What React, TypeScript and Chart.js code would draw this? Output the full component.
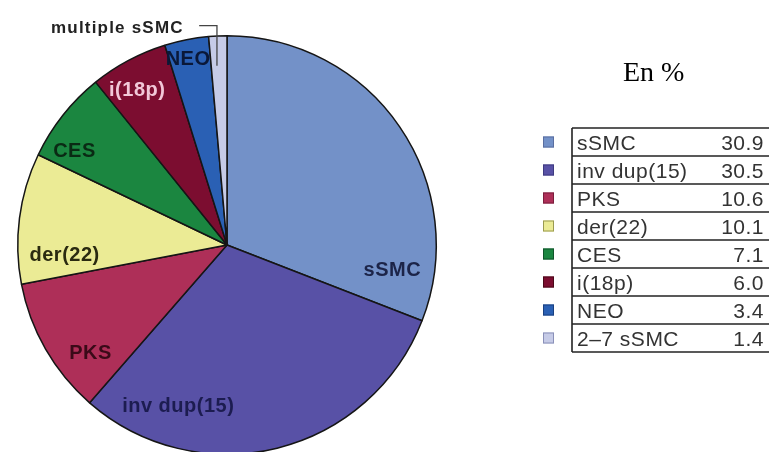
import React, { useEffect, useRef } from "react";
import { Chart, registerables } from "chart.js";

Chart.register(...registerables);

// ---- data ----
const categories = ["sSMC", "inv dup(15)", "PKS", "der(22)", "CES", "i(18p)", "NEO", "2–7 sSMC"];
const values = [30.9, 30.5, 10.6, 10.1, 7.1, 6.0, 3.4, 1.4];
const valueLabels = ["30.9", "30.5", "10.6", "10.1", "7.1", "6.0", "3.4", "1.4"];
const sliceLabels = ["sSMC", "inv dup(15)", "PKS", "der(22)", "CES", "i(18p)", "NEO", "multiple sSMC"];
const unitLabel = "En %";

// ---- styles ----
const sliceColors = ["#7391c8", "#5851a6", "#ae2f58", "#ebeb95", "#1b8640", "#7c0d30", "#2a60b4", "#c6cbe7"];
const swatchBorders = ["#5a6ea0", "#3e3a80", "#7a1e3c", "#9a9a50", "#10552a", "#4a0818", "#1a4080", "#8a90b8"];
const labelColors = ["#1c2448", "#1c1c50", "#3a0a18", "#2a2a10", "#0a2a14", "#f2c8d8", "#0a1838", "#222222"];
// label anchor, relative to pie centre, in units of radius
const labelOffsets: [number, number][] = [
  [0.79, 0.12],
  [-0.233, 0.771],
  [-0.652, 0.519],
  [-0.776, 0.048],
  [-0.729, -0.448],
  [-0.429, -0.738],
  [-0.186, -0.886],
  [-0.524, -1.036],
];

const labelPlugin = {
  id: "sliceLabels",
  afterDatasetsDraw(chart: any) {
    const ctx: CanvasRenderingContext2D = chart.ctx;
    const meta = chart.getDatasetMeta(0);
    const arc: any = meta.data[0];
    if (!arc) return;
    const cx = arc.x;
    const cy = arc.y;
    const r = arc.outerRadius;
    ctx.save();
    ctx.textAlign = "center";
    ctx.textBaseline = "middle";
    sliceLabels.forEach((t, i) => {
      const [fx, fy] = labelOffsets[i];
      const last = i === sliceLabels.length - 1;
      ctx.font = last ? "bold 17px 'Liberation Sans', Arial, sans-serif" : "bold 20px 'Liberation Sans', Arial, sans-serif";
      (ctx as any).letterSpacing = last ? "1.2px" : "0.5px";
      ctx.fillStyle = labelColors[i];
      ctx.fillText(t, cx + fx * r, cy + fy * r);
    });
    (ctx as any).letterSpacing = "0px";
    // leader line for the smallest slice
    ctx.strokeStyle = "#444";
    ctx.lineWidth = 1.3;
    ctx.beginPath();
    ctx.moveTo(cx - 0.133 * r, cy - 1.048 * r);
    ctx.lineTo(cx - 0.048 * r, cy - 1.048 * r);
    ctx.lineTo(cx - 0.048 * r, cy - 0.857 * r);
    ctx.stroke();

    // unit label
    ctx.textAlign = "left";
    ctx.textBaseline = "alphabetic";
    ctx.fillStyle = "#000";
    ctx.font = "28px 'Liberation Serif', 'Times New Roman', serif";
    ctx.fillText(unitLabel, 623, 81);

    // legend table
    const top = 128;
    const rowH = 28;
    const left = 572;
    const right = 769;
    ctx.strokeStyle = "#222";
    ctx.lineWidth = 1.6;
    for (let i = 0; i <= categories.length; i++) {
      const y = top + i * rowH;
      ctx.beginPath();
      ctx.moveTo(left, y);
      ctx.lineTo(right, y);
      ctx.stroke();
    }
    ctx.beginPath();
    ctx.moveTo(left, top);
    ctx.lineTo(left, top + categories.length * rowH);
    ctx.stroke();

    ctx.font = "21px 'Liberation Sans', Arial, sans-serif";
    (ctx as any).letterSpacing = "0.5px";
    categories.forEach((c, i) => {
      const rowTop = top + i * rowH;
      const mid = rowTop + rowH / 2;
      ctx.fillStyle = sliceColors[i];
      ctx.fillRect(543, mid - 5.5, 11, 11);
      ctx.strokeStyle = swatchBorders[i];
      ctx.lineWidth = 1;
      ctx.strokeRect(543.5, mid - 5, 10, 10);
      ctx.fillStyle = "#333";
      ctx.textAlign = "left";
      ctx.fillText(c, 577, rowTop + 22);
      ctx.textAlign = "right";
      ctx.fillText(valueLabels[i], 764, rowTop + 22);
    });
    (ctx as any).letterSpacing = "0px";
    ctx.restore();
  },
};

export default function App() {
  const ref = useRef<HTMLCanvasElement | null>(null);
  useEffect(() => {
    if (!ref.current) return;
    const chart = new Chart(ref.current, {
      type: "pie",
      data: {
        labels: categories,
        datasets: [
          {
            data: values,
            backgroundColor: sliceColors,
            borderColor: "#151515",
            borderWidth: 1.5,
          },
        ],
      },
      options: {
        responsive: false,
        animation: false,
        devicePixelRatio: 1,
        layout: { padding: { left: 17, right: 332, top: 35, bottom: 5 } },
        plugins: {
          legend: { display: false },
          tooltip: { enabled: false },
        },
      },
      plugins: [labelPlugin],
    });
    return () => chart.destroy();
  }, []);
  return (
    <div
      style={{
        position: "fixed",
        left: 0,
        top: 0,
        width: 769,
        height: 452,
        overflow: "hidden",
        background: "#fff",
      }}
    >
      <canvas ref={ref} width={769} height={460} style={{ display: "block" }} />
    </div>
  );
}
